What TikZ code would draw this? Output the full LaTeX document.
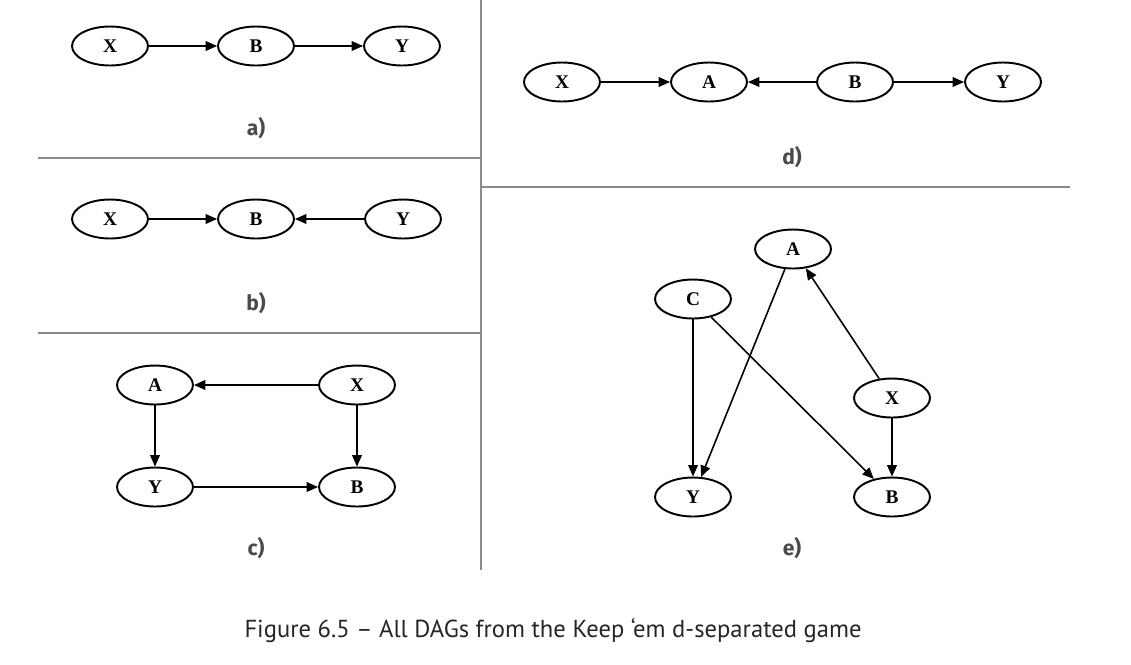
\documentclass[tikz,border=0pt]{standalone}
\usepackage{fontspec}
\setmainfont{Liberation Serif}
\newfontfamily\capfont{PT Sans}
\newfontfamily\tagfont{Fira Sans}
\usetikzlibrary{arrows.meta,shapes.geometric}
\definecolor{rulegray}{HTML}{8A8A8A}
\definecolor{taggray}{HTML}{4A4A4A}

\begin{document}
\begin{tikzpicture}[x=0.02cm,y=-0.02cm,>={Triangle[length=6.5pt,width=5.5pt]},
 var/.style={draw,ellipse,line width=1.1pt,minimum width=1.52cm,minimum height=0.78cm,
   inner sep=0pt,font=\fontsize{11}{13}\selectfont\bfseries},
 link/.style={->,line width=0.9pt},
 tagtext/.style={font=\tagfont\fontsize{12}{14}\selectfont\bfseries,text=taggray},
 divider/.style={rulegray,line width=1.4pt}]
    \useasboundingbox (0,0) rectangle (1131,664);
    % panel borders
    \draw[divider] (481,0) -- (481,570);
    \draw[divider] (38,158) -- (481,158);
    \draw[divider] (38,333) -- (481,333);
    \draw[divider] (481,187) -- (1070,187);

    % a) chain
    \node[var] (ax) at (110,46) {X};
    \node[var] (ab) at (256,46) {B};
    \node[var] (ay) at (402,46) {Y};
    \draw[link] (ax) -- (ab);
    \draw[link] (ab) -- (ay);
    \node[tagtext] (ta) at (256,128) {a)};

    % b) collider
    \node[var] (bx) at (110,219) {X};
    \node[var] (bb) at (256,219) {B};
    \node[var] (by) at (403,219) {Y};
    \draw[link] (bx) -- (bb);
    \draw[link] (by) -- (bb);
    \node[tagtext] (tb) at (256,303) {b)};

    % c) square
    \node[var] (ca) at (155,385) {A};
    \node[var] (cx) at (357,385) {X};
    \node[var] (cy) at (155,487) {Y};
    \node[var] (cb) at (357,487) {B};
    \draw[link] (cx) -- (ca);
    \draw[link] (ca) -- (cy);
    \draw[link] (cx) -- (cb);
    \draw[link] (cy) -- (cb);
    \node[tagtext] (tc) at (256,548) {c)};

    % d) four in a row
    \node[var] (dx) at (562,82) {X};
    \node[var] (da) at (709,82) {A};
    \node[var] (db) at (855,82) {B};
    \node[var] (dy) at (1003,82) {Y};
    \draw[link] (dx) -- (da);
    \draw[link] (db) -- (da);
    \draw[link] (db) -- (dy);
    \node[tagtext] (td) at (792,157) {d)};

    % e) five nodes
    \node[var] (ea) at (793,249) {A};
    \node[var] (ec) at (693,299) {C};
    \node[var] (ex) at (892,398) {X};
    \node[var] (ey) at (693,497) {Y};
    \node[var] (eb) at (892,497) {B};
    \draw[link] (ea) -- (ey);
    \draw[link,line width=0.6pt] (ec) -- (ey);
    \draw[link] (ec) -- (eb);
    \draw[link] (ex) -- (ea);
    \draw[link] (ex) -- (eb);
    \node[tagtext] (te) at (792,548) {e)};

    \node[font=\capfont\fontsize{14}{16}\selectfont,text=black!85] (caption) at (553,631)
        {Figure 6.5 – All DAGs from the Keep ‘em d-separated game};
\end{tikzpicture}
\end{document}
